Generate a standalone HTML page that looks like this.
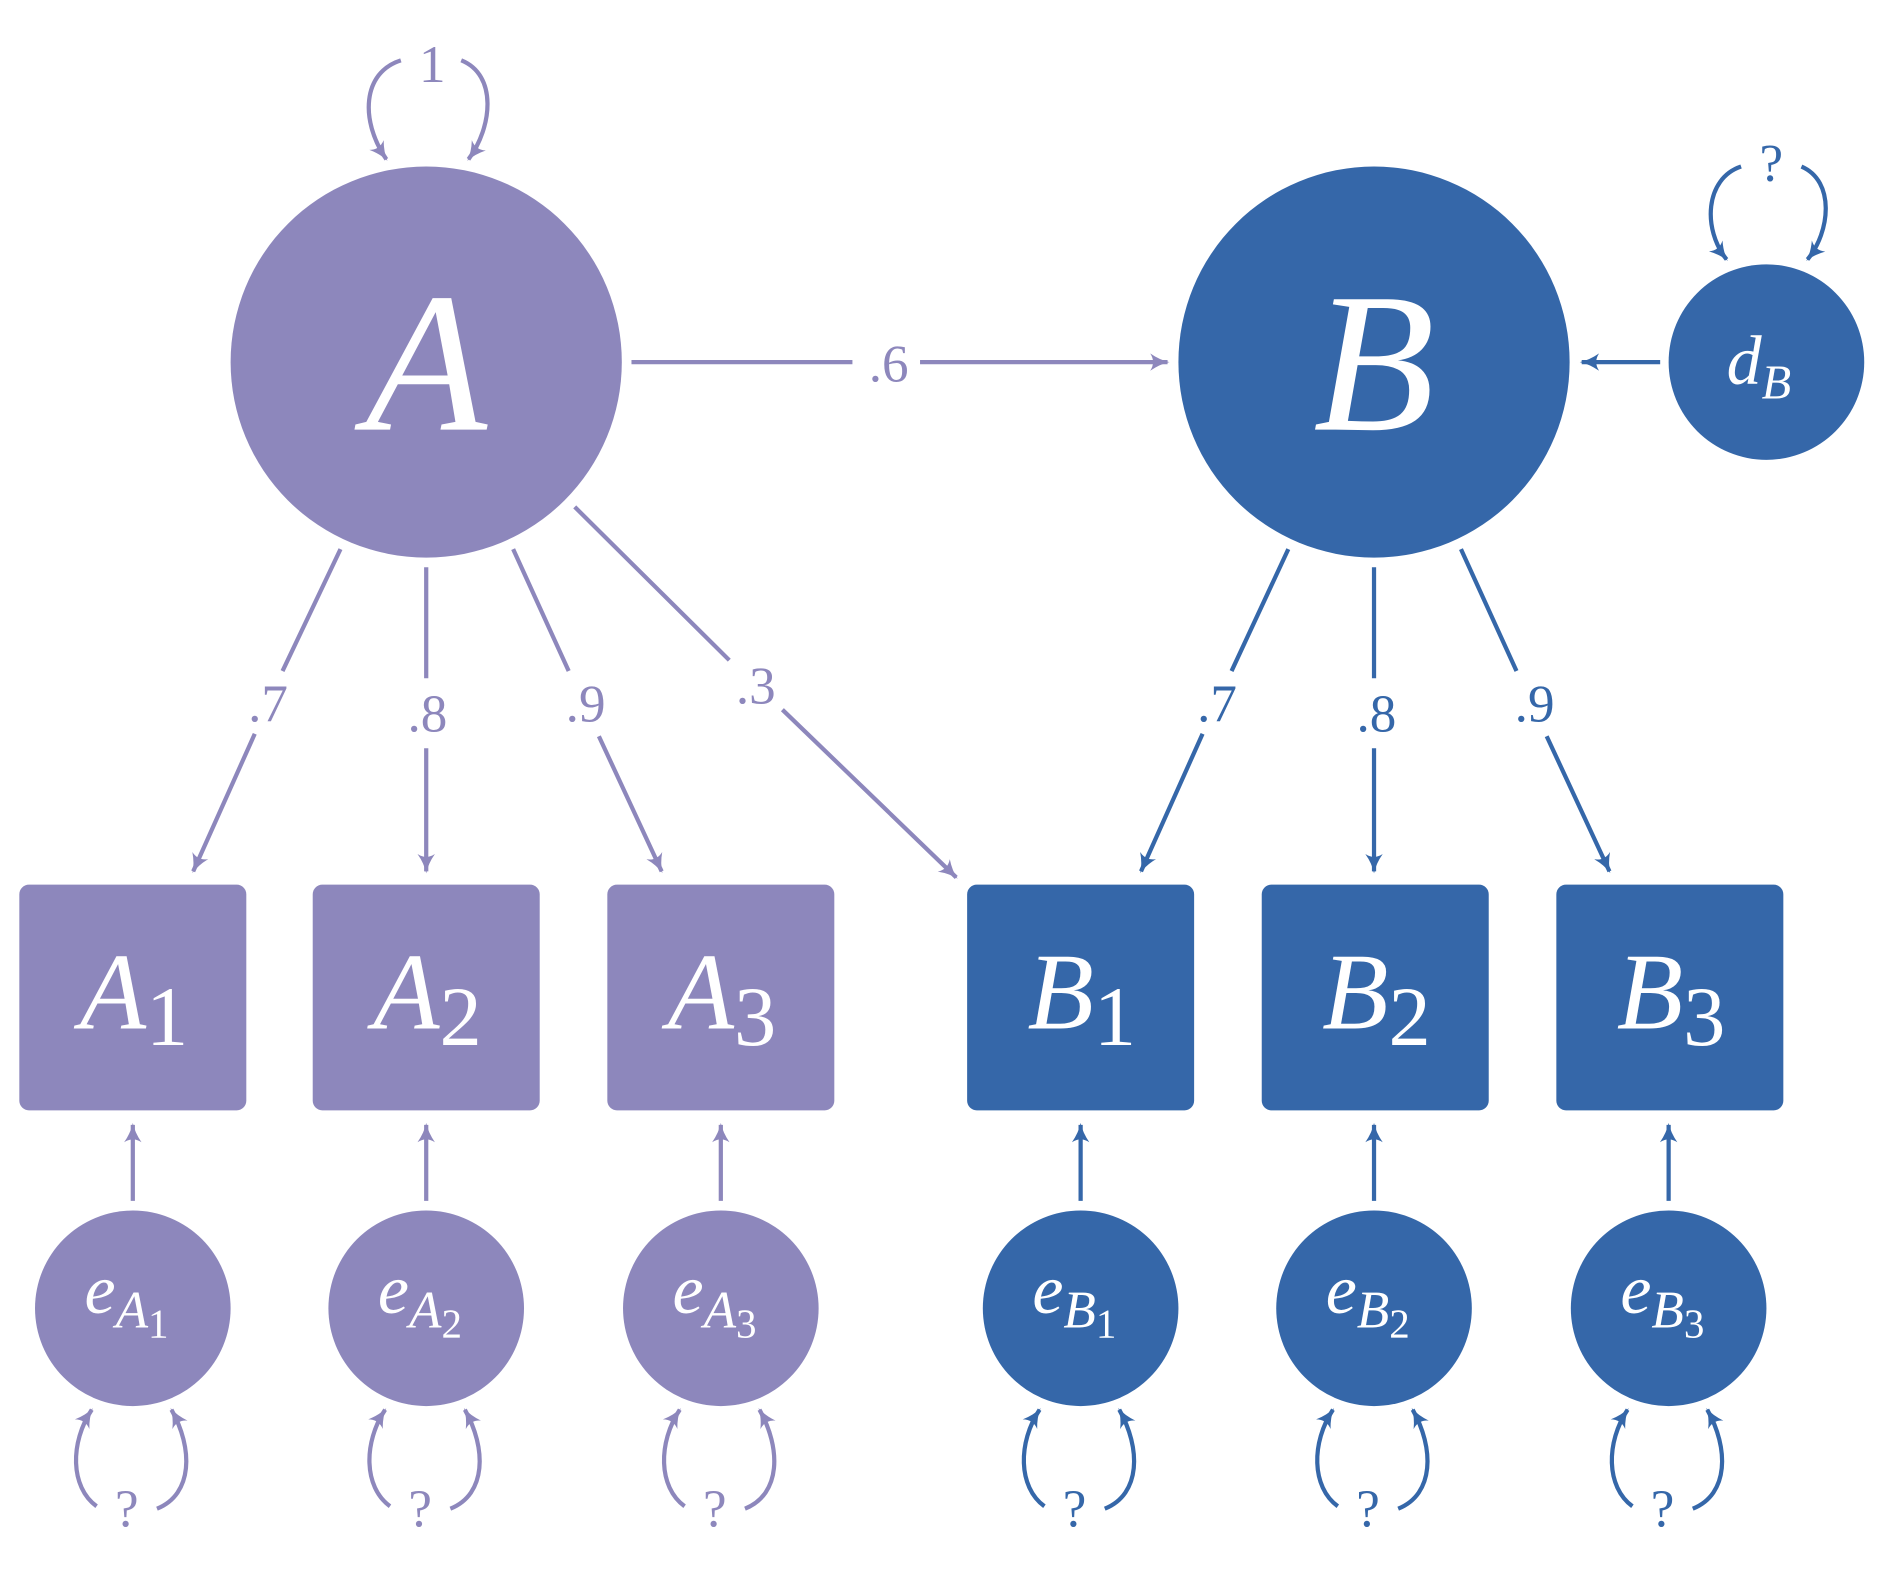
<!DOCTYPE html>
<html><head><meta charset="utf-8"><style>
html,body{margin:0;padding:0;background:#fff}
svg{display:block}
text{font-family:"Liberation Serif",serif;font-style:italic;fill:#fff}
.lp{fill:#8D87BC;font-style:normal}
.lb{fill:#3567A9;font-style:normal}
</style></head><body>
<svg width="1892" height="1569" viewBox="0 0 1567 1300" preserveAspectRatio="none" xmlns="http://www.w3.org/2000/svg">
<defs>
<marker id="mp" viewBox="0 0 10 10" refX="9" refY="5" markerWidth="18" markerHeight="16" orient="auto" markerUnits="userSpaceOnUse">
<path d="M0,0.5 Q5,4 10,5 Q5,6 0,9.5 Q3,5 0,0.5Z" fill="#8D87BC"/></marker>
<marker id="mb" viewBox="0 0 10 10" refX="9" refY="5" markerWidth="18" markerHeight="16" orient="auto" markerUnits="userSpaceOnUse">
<path d="M0,0.5 Q5,4 10,5 Q5,6 0,9.5 Q3,5 0,0.5Z" fill="#3567A9"/></marker>
</defs>
<style>
.p{stroke:#8D87BC;stroke-width:3.5;fill:none}
.b{stroke:#3567A9;stroke-width:3.5;fill:none}
</style>
<circle cx="353" cy="300" r="162" fill="#8D87BC"/>
<circle cx="1138" cy="300" r="162" fill="#3567A9"/>
<circle cx="1463" cy="300" r="81" fill="#3567A9"/>
<text x="353" y="356" font-size="165" text-anchor="middle">A</text>
<text x="1138" y="356" font-size="165" text-anchor="middle">B</text>
<text x="1430" y="318" font-size="58">d<tspan font-size="40" dy="12">B</tspan></text>
<g fill="#8D87BC">
<rect x="16" y="733" width="188" height="187" rx="8"/>
<rect x="259" y="733" width="188" height="187" rx="8"/>
<rect x="503" y="733" width="188" height="187" rx="8"/>
</g>
<g fill="#3567A9">
<rect x="801" y="733" width="188" height="187" rx="8"/>
<rect x="1045" y="733" width="188" height="187" rx="8"/>
<rect x="1289" y="733" width="188" height="187" rx="8"/>
</g>
<g font-size="90">
<text x="66" y="852">A<tspan font-style="normal" font-size="70" dy="14">1</tspan></text>
<text x="309" y="852">A<tspan font-style="normal" font-size="70" dy="14">2</tspan></text>
<text x="553" y="852">A<tspan font-style="normal" font-size="70" dy="14">3</tspan></text>
<text x="851" y="852">B<tspan font-style="normal" font-size="70" dy="14">1</tspan></text>
<text x="1095" y="852">B<tspan font-style="normal" font-size="70" dy="14">2</tspan></text>
<text x="1339" y="852">B<tspan font-style="normal" font-size="70" dy="14">3</tspan></text>
</g>
<g fill="#8D87BC"><circle cx="110" cy="1084" r="81"/><circle cx="353" cy="1084" r="81"/><circle cx="597" cy="1084" r="81"/></g>
<g fill="#3567A9"><circle cx="895" cy="1084" r="81"/><circle cx="1138" cy="1084" r="81"/><circle cx="1382" cy="1084" r="81"/></g>
<g font-size="58">
<text x="70" y="1088">e<tspan font-size="44" dy="12">A</tspan><tspan font-style="normal" font-size="34" dy="8">1</tspan></text>
<text x="313" y="1088">e<tspan font-size="44" dy="12">A</tspan><tspan font-style="normal" font-size="34" dy="8">2</tspan></text>
<text x="557" y="1088">e<tspan font-size="44" dy="12">A</tspan><tspan font-style="normal" font-size="34" dy="8">3</tspan></text>
<text x="855" y="1088">e<tspan font-size="44" dy="12">B</tspan><tspan font-style="normal" font-size="34" dy="8">1</tspan></text>
<text x="1098" y="1088">e<tspan font-size="44" dy="12">B</tspan><tspan font-style="normal" font-size="34" dy="8">2</tspan></text>
<text x="1342" y="1088">e<tspan font-size="44" dy="12">B</tspan><tspan font-style="normal" font-size="34" dy="8">3</tspan></text>
</g>
<g class="p">
<path d="M523,300 H706 M762,300 H967" marker-end="url(#mp)"/>
<path d="M282,455 L234,556 M211,608 L160,722" marker-end="url(#mp)"/>
<path d="M353,470 V562 M353,620 V722" marker-end="url(#mp)"/>
<path d="M425,455 L471,556 M496,610 L548,722" marker-end="url(#mp)"/>
<path d="M476,420 L604,547 M648,588 L792,727" marker-end="url(#mp)"/>
<path d="M110,995 V932" marker-end="url(#mp)"/>
<path d="M353,995 V932" marker-end="url(#mp)"/>
<path d="M597,995 V932" marker-end="url(#mp)"/>
<path d="M332,50 C300,60 298,100 320,132" marker-end="url(#mp)"/>
<path d="M382,50 C412,62 408,105 388,132" marker-end="url(#mp)"/>
</g>
<g class="b">
<path d="M1067,455 L1020,556 M996,608 L945,722" marker-end="url(#mb)"/>
<path d="M1138,470 V562 M1138,620 V722" marker-end="url(#mb)"/>
<path d="M1210,455 L1256,556 M1281,610 L1333,722" marker-end="url(#mb)"/>
<path d="M1375,300 H1310" marker-end="url(#mb)"/>
<path d="M895,995 V932" marker-end="url(#mb)"/>
<path d="M1138,995 V932" marker-end="url(#mb)"/>
<path d="M1382,995 V932" marker-end="url(#mb)"/>
<path d="M1442,138 C1412,148 1410,190 1430,215" marker-end="url(#mb)"/>
<path d="M1492,138 C1520,150 1516,192 1497,215" marker-end="url(#mb)"/>
</g>
<g>
<path class="p" d="M80,1248 C58,1232 58,1195 76,1168" marker-end="url(#mp)"/>
<path class="p" d="M130,1250 C160,1238 160,1200 142,1168" marker-end="url(#mp)"/>
<path class="p" d="M323,1248 C301,1232 301,1195 319,1168" marker-end="url(#mp)"/>
<path class="p" d="M373,1250 C403,1238 403,1200 385,1168" marker-end="url(#mp)"/>
<path class="p" d="M567,1248 C545,1232 545,1195 563,1168" marker-end="url(#mp)"/>
<path class="p" d="M617,1250 C647,1238 647,1200 629,1168" marker-end="url(#mp)"/>
<path class="b" d="M865,1248 C843,1232 843,1195 861,1168" marker-end="url(#mb)"/>
<path class="b" d="M915,1250 C945,1238 945,1200 927,1168" marker-end="url(#mb)"/>
<path class="b" d="M1108,1248 C1086,1232 1086,1195 1104,1168" marker-end="url(#mb)"/>
<path class="b" d="M1158,1250 C1188,1238 1188,1200 1170,1168" marker-end="url(#mb)"/>
<path class="b" d="M1352,1248 C1330,1232 1330,1195 1348,1168" marker-end="url(#mb)"/>
<path class="b" d="M1402,1250 C1432,1238 1432,1200 1414,1168" marker-end="url(#mb)"/>
</g>
<g font-size="44" text-anchor="middle">
<text class="lp" x="358" y="68">1</text>
<text class="lp" x="736" y="316">.6</text>
<text class="lp" x="222" y="598">.7</text>
<text class="lp" x="354" y="606">.8</text>
<text class="lp" x="485" y="598">.9</text>
<text class="lp" x="626" y="583">.3</text>
<text class="lb" x="1008" y="598">.7</text>
<text class="lb" x="1140" y="606">.8</text>
<text class="lb" x="1271" y="598">.9</text>
<text class="lb" x="1467" y="150">?</text>
<text class="lp" x="105" y="1265">?</text>
<text class="lp" x="348" y="1265">?</text>
<text class="lp" x="592" y="1265">?</text>
<text class="lb" x="890" y="1265">?</text>
<text class="lb" x="1133" y="1265">?</text>
<text class="lb" x="1377" y="1265">?</text>
</g>
</svg>
</body></html>
